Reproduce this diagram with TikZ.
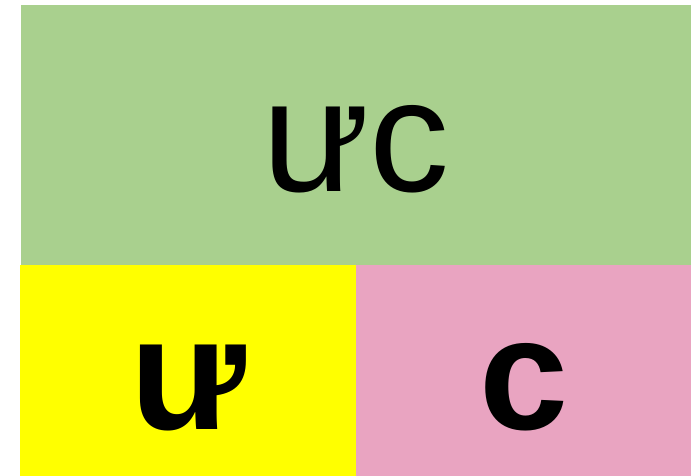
\documentclass[tikz,border=0pt]{standalone}
\usepackage{fontspec}
\setmainfont{Liberation Sans}
\usepackage{xcolor}
\usetikzlibrary{positioning}
\definecolor{leafgreen}{RGB}{169,208,142}
\definecolor{pureyellow}{RGB}{255,255,0}
\definecolor{rosepink}{RGB}{233,164,193}

\begin{document}
\begin{tikzpicture}[x=1pt, y=-1pt,
  block/.style={inner sep=0pt, outer sep=0pt, anchor=north west},
  letter/.style={anchor=base, inner sep=0pt, font=\fontsize{160}{160}\selectfont}]
  \useasboundingbox (0,0) rectangle (691,476);
  \node[block, fill=leafgreen, minimum width=670pt, minimum height=260pt] (whole) at (21,5) {};
  \node[block, fill=pureyellow, minimum width=336pt, minimum height=211pt] (left) at (20,265) {};
  \node[block, fill=rosepink, minimum width=335pt, minimum height=211pt] (right) at (356,265) {};
  \node[letter] (wholetext) at (whole.center |- 0,192) {ưc};
  \node[letter, font=\fontsize{160}{160}\selectfont\bfseries] (lefttext) at (left.center |- 0,429) {ư};
  \node[letter, font=\fontsize{160}{160}\selectfont\bfseries] (righttext) at (right.center |- 0,429) {c};
\end{tikzpicture}
\end{document}
